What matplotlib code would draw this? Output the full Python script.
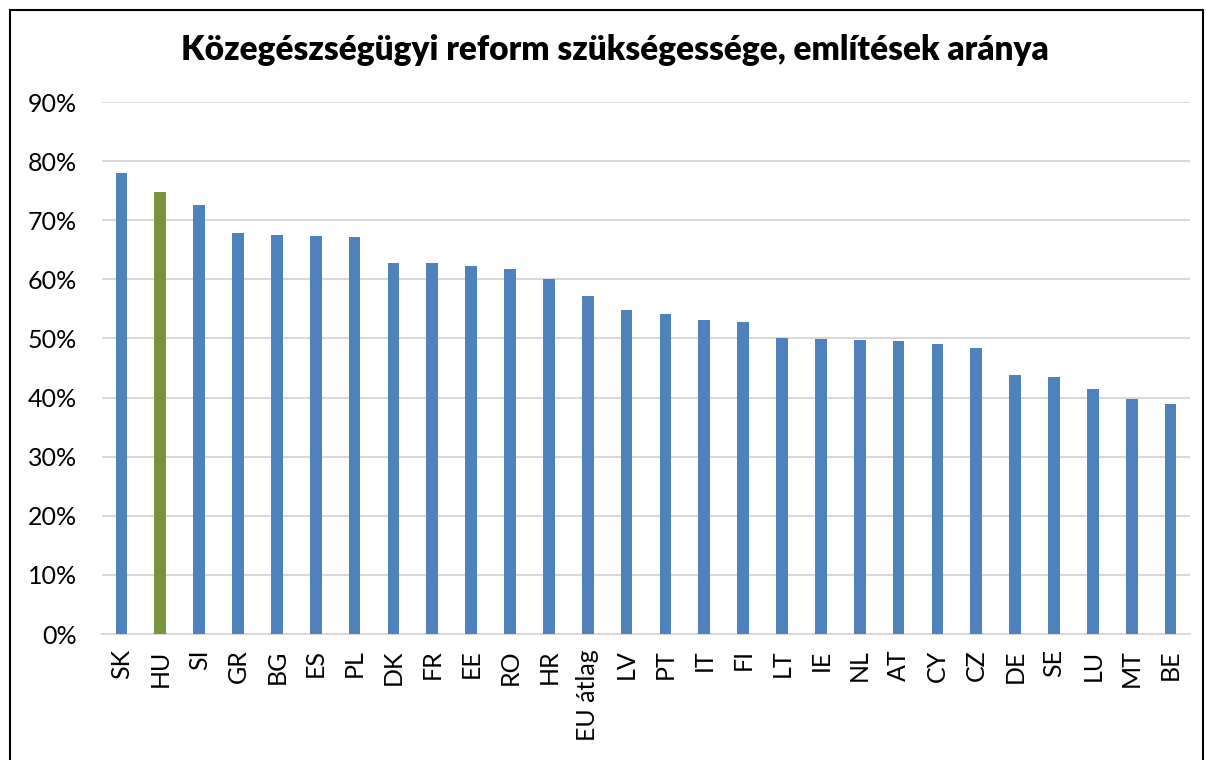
import matplotlib.pyplot as plt
from matplotlib.patches import Rectangle
from matplotlib.ticker import PercentFormatter

plt.rcParams['font.family'] = ['Lato', 'DejaVu Sans']

countries = ['SK', 'HU', 'SI', 'GR', 'BG', 'ES', 'PL', 'DK', 'FR', 'EE', 'RO', 'HR',
             'EU átlag', 'LV', 'PT', 'IT', 'FI', 'LT', 'IE', 'NL', 'AT', 'CY', 'CZ',
             'DE', 'SE', 'LU', 'MT', 'BE']
values = [78.0, 74.8, 72.6, 67.9, 67.5, 67.4, 67.1, 62.8, 62.8, 62.2, 61.8, 60.1,
          57.2, 54.8, 54.1, 53.1, 52.8, 50.0, 49.9, 49.8, 49.6, 49.0, 48.4,
          43.8, 43.5, 41.5, 39.8, 38.9]
highlight = 'HU'

W, H = 1206, 760
fig = plt.figure(figsize=(W / 100, H / 100), dpi=100)
ax = fig.add_axes([102 / W, 1 - 634 / H, (1190 - 102) / W, (634 - 102) / H])

colors = ['#77933c' if c == highlight else '#4f81bd' for c in countries]
x = range(len(countries))
ax.bar(x, values, width=0.3, color=colors, zorder=3)

ax.set_xlim(-0.5, len(countries) - 0.5)
ax.set_ylim(0, 90)
ax.set_yticks(range(0, 91, 10))
ax.yaxis.set_major_formatter(PercentFormatter(decimals=0))
ax.set_xticks(list(x))
ax.set_xticklabels(countries, rotation=90, fontsize=18)
ax.tick_params(axis='y', labelsize=18, length=0, pad=18)
ax.tick_params(axis='x', length=0, pad=11)

ax.grid(axis='y', color='#d9d9d9', linewidth=1.5, zorder=0)
for s in ['top', 'right', 'left']:
    ax.spines[s].set_visible(False)
ax.spines['bottom'].set_color('#d9d9d9')
ax.spines['bottom'].set_linewidth(1.5)

fig.text(615 / W, 1 - 50 / H,
         'Közegészségügyi reform szükségessége, említések aránya',
         ha='center', va='center', fontsize=24, fontweight='heavy')

fig.patches.append(Rectangle((10 / W, -0.1), (1203 - 10) / W, 1.1 - 10 / H,
                             transform=fig.transFigure, fill=False,
                             edgecolor='black', linewidth=1.5))

fig.savefig('out.png', dpi=100)
